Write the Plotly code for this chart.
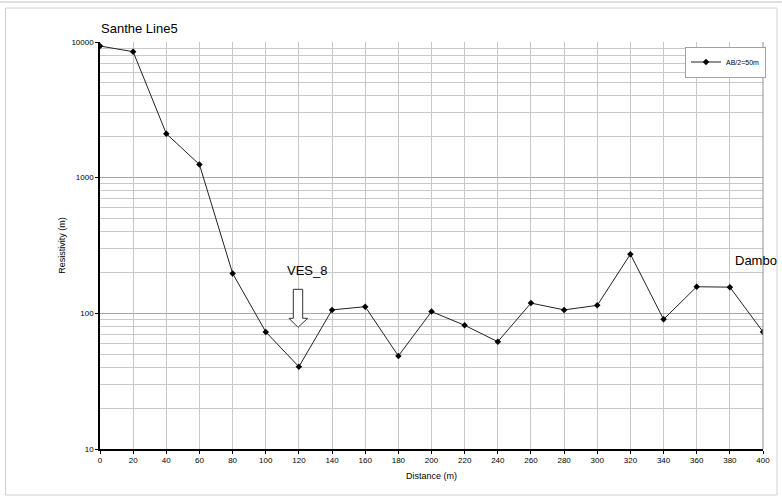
import plotly.graph_objects as go

distance = [0, 20, 40, 60, 80, 100, 120, 140, 160, 180, 200, 220, 240, 260, 280, 300, 320, 340, 360, 380, 400]
resistivity = [9340, 8480, 2110, 1250, 197, 73, 40.4, 106, 112, 48.5, 103, 81.6, 61.8, 119, 106, 114.5, 273, 90.3, 157, 156, 73]
series_name = "AB/2=50m"
x_ticks = list(range(0, 401, 20))
y_major = [10, 100, 1000, 10000]
y_minor = [m * d for d in (10, 100, 1000) for m in range(2, 10)]

W, H = 782, 496
L, R, T, B = 100, 763, 42, 449

def px(x):
    return (x - L) / (R - L)

def py(y):
    return (B - y) / (B - T)

fig = go.Figure()
fig.add_trace(go.Scatter(
    x=distance, y=resistivity, mode="lines+markers", name=series_name,
    line=dict(color="#222222", width=1),
    marker=dict(symbol="diamond", size=5, color="#000000"),
))

font_main = "Liberation Sans, Arial, sans-serif"
fig.update_layout(
    width=W, height=H,
    margin=dict(l=L, r=W - R, t=T, b=H - B),
    paper_bgcolor="white", plot_bgcolor="white",
    font=dict(family=font_main, size=8, color="#000000"),
    showlegend=True,
    hovermode=False,
    legend=dict(x=px(685), y=py(46.5), xanchor="left", yanchor="top",
                bordercolor="#a0a0a0", borderwidth=1, bgcolor="white",
                font=dict(size=7, color="#000000"), itemwidth=30, tracegroupgap=0),
    xaxis=dict(range=[0, 400], tickvals=x_ticks, ticktext=[str(v) for v in x_ticks],
               showgrid=True, gridcolor="#c8c8c8", gridwidth=1,
               showline=True, linecolor="#000000", linewidth=1.5,
               ticks="outside", ticklen=3, tickcolor="#000000",
               tickfont=dict(size=8), zeroline=False,
               title=dict(text="Distance (m)", font=dict(size=9), standoff=8)),
    yaxis=dict(type="log", range=[1, 4], tickvals=y_major, ticktext=[str(v) for v in y_major],
               showgrid=True, gridcolor="#a8a8a8", gridwidth=1,
               showline=True, linecolor="#000000", linewidth=1.5,
               ticks="outside", ticklen=3, tickcolor="#000000",
               tickfont=dict(size=8), zeroline=False,
               minor=dict(tickvals=y_minor, showgrid=True, gridcolor="#c8c8c8", gridwidth=1, ticks=""),
               title=dict(text="Resistivity (m)", font=dict(size=9), standoff=4)),
)

# outer frame
fig.add_shape(type="rect", xref="paper", yref="paper",
              x0=px(5.5), x1=px(777), y0=py(495), y1=py(8),
              line=dict(color="#d0d0d0", width=1), layer="below")
fig.add_shape(type="line", xref="paper", yref="paper",
              x0=px(0), x1=px(782), y0=py(2), y1=py(2),
              line=dict(color="#c0c0c0", width=1))
# right border of plot
fig.add_shape(type="line", xref="paper", yref="paper",
              x0=1, x1=1, y0=0, y1=1, line=dict(color="#909090", width=1))

# title
fig.add_annotation(text="Santhe Line5", xref="paper", yref="paper",
                   x=px(98.5), y=py(28), xanchor="left", yanchor="middle",
                   showarrow=False, font=dict(size=13, family=font_main))
# VES_8 annotation
fig.add_annotation(text="VES_8", xref="paper", yref="paper",
                   x=px(307), y=py(270.5), xanchor="center", yanchor="middle",
                   showarrow=False, font=dict(size=13, family=font_main))
fig.add_annotation(text="Dambo", xref="paper", yref="paper",
                   x=px(733), y=py(260), xanchor="left", yanchor="middle",
                   showarrow=False, font=dict(size=13, family=font_main))

# block arrow (outline)
pts = [(293.3, 289.3), (302.7, 289.3), (302.7, 318.3), (307.7, 318.3),
       (298, 327.3), (289, 318.3), (293.3, 318.3)]
path = "M " + " L ".join(f"{px(a):.5f},{py(b):.5f}" for a, b in pts) + " Z"
fig.add_shape(type="path", xref="paper", yref="paper", path=path,
              line=dict(color="#333333", width=1), fillcolor="white")

fig.write_html("out.html", config={"displayModeBar": False},
               post_script="document.body.style.margin='0';document.body.style.overflow='hidden';")
